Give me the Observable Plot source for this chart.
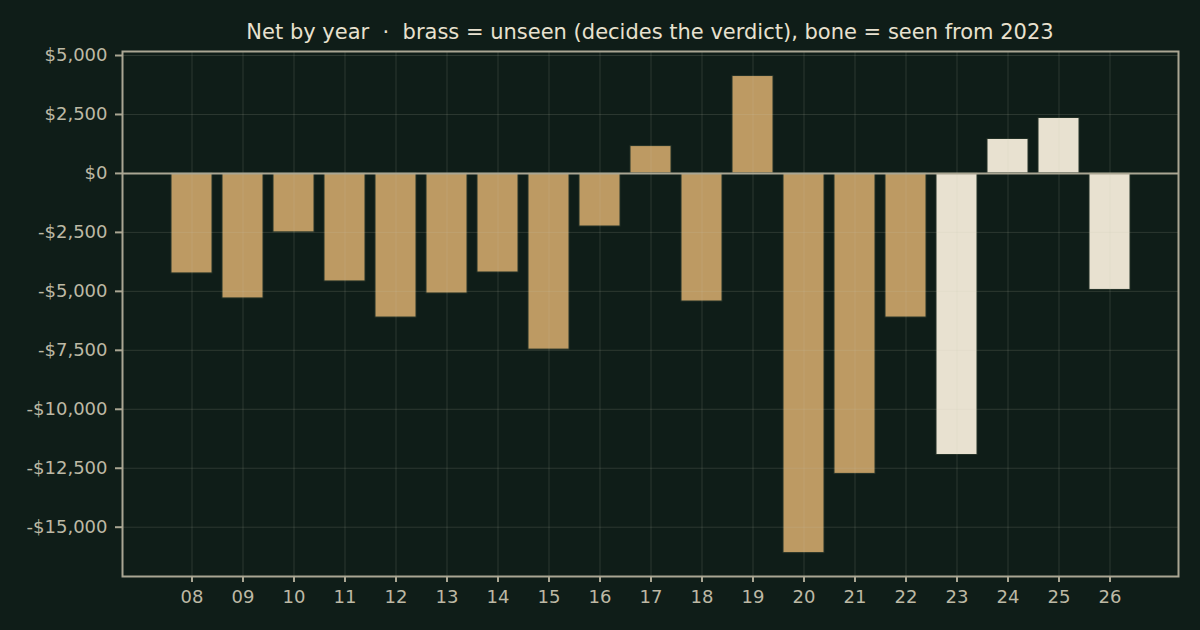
<!DOCTYPE html>
<html>
<head>
<meta charset="utf-8">
<script src="https://cdn.jsdelivr.net/npm/d3@7"></script>
<script src="https://cdn.jsdelivr.net/npm/@observablehq/plot@0.6"></script>
<style>
  html, body { margin:0; padding:0; background:#0f1d18; }
  #wrap { position:relative; width:1200px; height:630px; background:#0f1d18; overflow:hidden; }
  #title { position:absolute; left:122px; width:1056px; top:20px; text-align:center;
           font-family:"DejaVu Sans", sans-serif; font-size:21px; color:#e8e1cf; white-space:pre; }
  #chart { position:absolute; left:0; top:0; }
</style>
</head>
<body>
<div id="wrap">
  <div id="chart"></div>
  <div id="title">Net by year  ·  brass = unseen (decides the verdict), bone = seen from 2023</div>
</div>
<script>
const years = ["08","09","10","11","12","13","14","15","16","17","18","19","20","21","22","23","24","25","26"];
const net = [-4240,-5300,-2500,-4580,-6110,-5090,-4200,-7470,-2250,1160,-5430,4130,-16100,-12740,-6110,-11940,1460,2350,-4940];
const seenFrom = "23";
const yTicks = [5000,2500,0,-2500,-5000,-7500,-10000,-12500,-15000];

const brass = "#bd9a63";
const bone = "#e8e1d0";
const ink = "#aaa693";
const tickText = "#bdb9a5";

const data = years.map((y, i) => ({year: y, net: net[i], seen: y >= seenFrom}));
const fmt = d => (d < 0 ? "-" : "") + "$" + d3.format(",")(Math.abs(d));

const chart = Plot.plot({
  width: 1200,
  height: 630,
  marginTop: 51,
  marginBottom: 54,
  marginLeft: 122,
  marginRight: 22,
  style: {background: "transparent", color: tickText, fontFamily: "DejaVu Sans, sans-serif", fontSize: "18px"},
  x: {domain: years, padding: 0.2, insetLeft: 38, insetRight: 38, label: null},
  y: {domain: [-17090, 5170], label: null},
  marks: [
    Plot.barY(data, {x: "year", y: "net", fill: d => d.seen ? bone : brass, stroke: "#223026", strokeWidth: 1}),
    Plot.gridX(years, {stroke: "#c8c8b4", strokeOpacity: 0.16}),
    Plot.gridY(yTicks, {stroke: "#c8c8b4", strokeOpacity: 0.16}),
    Plot.axisX(years, {tickSize: 6, tickPadding: 8, fontSize: 18, stroke: ink, strokeWidth: 2, fill: tickText, label: null}),
    Plot.axisY(yTicks, {tickSize: 7, tickPadding: 8, fontSize: 18, tickFormat: fmt, stroke: ink, strokeWidth: 2, fill: tickText, label: null}),
    Plot.ruleY([0], {stroke: ink, strokeWidth: 2}),
    Plot.frame({stroke: ink, strokeWidth: 2})
  ]
});
document.getElementById("chart").appendChild(chart);
</script>
</body>
</html>
